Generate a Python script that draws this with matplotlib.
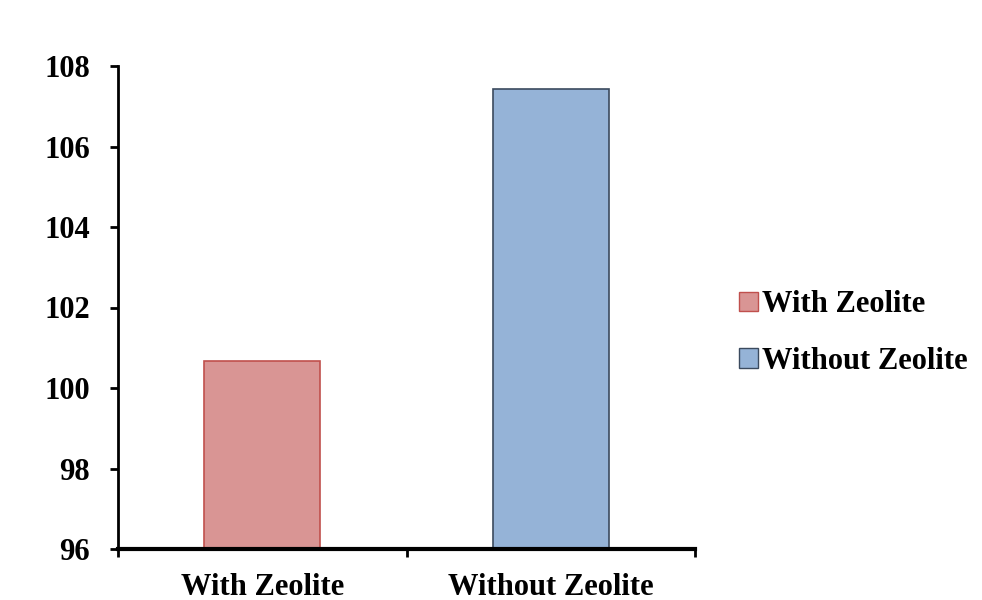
import numpy as np
import matplotlib.pyplot as plt

categories = ['With Zeolite', 'Without Zeolite']
values = [100.67, 107.43]
fill_colors = ['#D99594', '#95B3D7']
edge_colors = ['#C0504D', '#3B4A5E']

plt.rcParams['font.family'] = ['Liberation Serif', 'DejaVu Serif']
plt.rcParams['font.weight'] = 'bold'

fig = plt.figure(figsize=(9.82, 6.0), dpi=100)
ax = fig.add_axes([0.120, 0.085, 0.588, 0.805])

x = np.arange(len(categories))
bars = ax.bar(x, [v - 96 for v in values], bottom=96, width=0.40,
              color=fill_colors, edgecolor=edge_colors, linewidth=1.2,
              label=categories)

ax.set_xlim(-0.5, 1.5)
ax.set_ylim(96, 108)
ax.set_yticks(np.arange(96, 109, 2))
ax.set_yticklabels([str(v) for v in range(96, 109, 2)], fontsize=22, fontweight='bold')

# category labels centred under bars, tick marks on the boundaries
ax.set_xticks([-0.5, 0.5, 1.5])
ax.set_xticklabels([])
ax.set_xticks(x, minor=True)
ax.set_xticklabels(categories, minor=True, fontsize=22, fontweight='bold')
ax.tick_params(axis='x', which='minor', length=0, pad=17)
ax.tick_params(axis='x', which='major', direction='out', length=6, width=2)
ax.tick_params(axis='y', direction='out', length=6, width=2, pad=14)

for side in ['top', 'right']:
    ax.spines[side].set_visible(False)
ax.spines['left'].set_linewidth(2)
ax.spines['bottom'].set_linewidth(3)

handles = [plt.Rectangle((0, 0), 1, 1, facecolor=fill_colors[i], edgecolor=edge_colors[i])
           for i in range(len(categories))]
fig.legend(handles, categories, loc='center left', bbox_to_anchor=(0.753, 0.445),
           frameon=False, prop={'size': 22, 'weight': 'bold'},
           handlelength=0.6, handleheight=0.6, handletextpad=0.15, labelspacing=0.9,
           borderaxespad=0, borderpad=0)

fig.savefig('out.png', dpi=100)
